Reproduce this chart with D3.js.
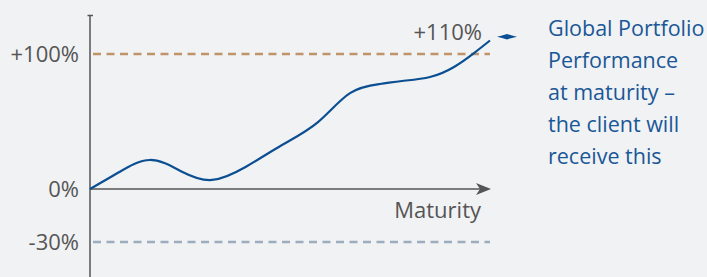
<!DOCTYPE html>
<html>
<head>
<meta charset="utf-8">
<script src="https://cdn.jsdelivr.net/npm/d3@7"></script>
<style>
  html, body { margin: 0; padding: 0; background: #f1f2f4; }
  svg { display: block; font-family: "Open Sans", sans-serif; }
</style>
</head>
<body>
<div id="chart"></div>
<script>
// time to maturity (0..10) and portfolio performance in %
let times = [0, 0.7, 1.5, 2.3, 3.05, 3.9, 4.8, 5.7, 6.5, 7.25, 7.8, 8.5, 9.1, 9.6, 10];
let perf = [0, 12, 21.5, 12.8, 6.7, 16.5, 32.6, 49.6, 71, 77.8, 80, 83, 90.4, 100.7, 110];
let tickValues = [-30, 0, 100];
let tickLabels = ["-30%", "0%", "+100%"];
let endLabel = "+110%";
let xLabel = "Maturity";
let legendLines = ["Global Portfolio", "Performance", "at maturity \u2013", "the client will", "receive this"];

let width = 707, height = 277;

let x = d3.scaleLinear()
  .domain([0, 10])
  .range([90, 490]);

let y = d3.scaleLinear()
  .domain([-30, 0, 100])
  .range([242, 189, 54]);

let data = times.map((t, i) => ({ t: t, v: perf[i] }));

const svg = d3.select("#chart").append("svg")
  .attr("width", width)
  .attr("height", height)
  .attr("viewBox", [0, 0, width, height]);

// reference lines
svg.append("line")
  .attr("x1", x(0) + 3).attr("x2", x(10))
  .attr("y1", y(100)).attr("y2", y(100))
  .attr("stroke", "#c09468")
  .attr("stroke-width", 2.5)
  .attr("stroke-dasharray", "8,5.5");

svg.append("line")
  .attr("x1", x(0) + 3).attr("x2", x(10))
  .attr("y1", y(-30)).attr("y2", y(-30))
  .attr("stroke", "#9dadbd")
  .attr("stroke-width", 2.5)
  .attr("stroke-dasharray", "8,5.5");

// y axis
svg.append("g")
  .attr("transform", `translate(${x(0)},0)`)
  .call(d3.axisLeft(y).tickValues(tickValues).tickSize(0).tickPadding(11)
    .tickFormat((d, i) => tickLabels[i]))
  .call(g => g.select(".domain").remove())
  .call(g => g.selectAll("text")
    .attr("font-family", "Open Sans")
    .attr("font-size", "22px")
    .attr("fill", "#555"));

svg.append("line")
  .attr("x1", x(0)).attr("x2", x(0))
  .attr("y1", 15).attr("y2", height)
  .attr("stroke", "#555")
  .attr("stroke-width", 1.5);

svg.append("line")
  .attr("x1", x(0) - 2.5).attr("x2", x(0) + 3)
  .attr("y1", 15.5).attr("y2", 15.5)
  .attr("stroke", "#555")
  .attr("stroke-width", 1.5);

// x axis with arrow
svg.append("line")
  .attr("x1", x(0)).attr("x2", x(10) - 8)
  .attr("y1", y(0)).attr("y2", y(0))
  .attr("stroke", "#555")
  .attr("stroke-width", 1.5);

svg.append("path")
  .attr("d", `M${x(10) + 1},${y(0)} L${x(10) - 14},${y(0) - 6} L${x(10) - 10},${y(0)} L${x(10) - 14},${y(0) + 6} Z`)
  .attr("fill", "#555");

svg.append("text")
  .attr("x", x(10) - 9)
  .attr("y", 218)
  .attr("text-anchor", "end")
  .attr("font-size", "22px")
  .attr("fill", "#555")
  .text(xLabel);

// performance curve
let line = d3.line()
  .x(d => x(d.t))
  .y(d => y(d.v))
  .curve(d3.curveNatural);

svg.append("path")
  .datum(data)
  .attr("fill", "none")
  .attr("stroke", "#0b4f93")
  .attr("stroke-width", 2.2)
  .attr("d", line);

svg.append("text")
  .attr("x", x(10) - 8)
  .attr("y", 40)
  .attr("text-anchor", "end")
  .attr("font-size", "22px")
  .attr("fill", "#555")
  .text(endLabel);

// legend marker
svg.append("path")
  .attr("d", "M497,36.7 L502,35.5 L507,34 L512,35.5 L517,36.7 L512,37.9 L507,39.4 L502,37.9 Z")
  .attr("fill", "#0b4f93");

svg.append("g")
  .selectAll("text")
  .data(legendLines)
  .join("text")
    .attr("x", 548)
    .attr("y", (d, i) => 36 + i * 32)
    .attr("font-size", "21.5px")
    .attr("fill", "#1a5797")
    .text(d => d);
</script>
</body>
</html>
